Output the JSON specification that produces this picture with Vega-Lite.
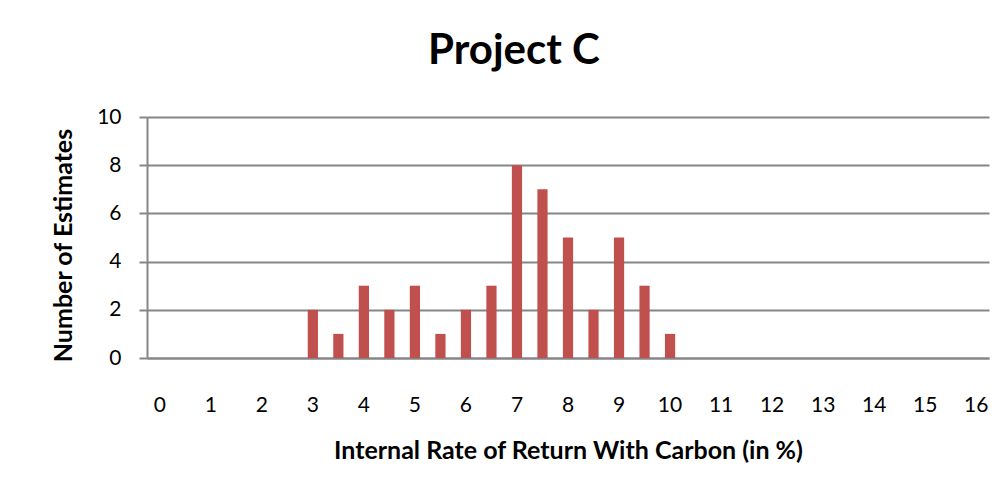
{
  "$schema": "https://vega.github.io/schema/vega-lite/v6.json",
  "autosize": "none",
  "width": 842,
  "height": 241,
  "padding": {"left": 147, "top": 117, "right": 19, "bottom": 142},
  "background": "white",
  "title": {
    "text": "Project C",
    "font": "Lato",
    "fontSize": 42,
    "fontWeight": "bold",
    "color": "#000000",
    "anchor": "middle",
    "baseline": "alphabetic",
    "offset": 0,
    "dx": -54
  },
  "data": {
    "values": [
      {"irr": 0, "count": 0}, {"irr": 0.5, "count": 0},
      {"irr": 1, "count": 0}, {"irr": 1.5, "count": 0},
      {"irr": 2, "count": 0}, {"irr": 2.5, "count": 0},
      {"irr": 3, "count": 2}, {"irr": 3.5, "count": 1},
      {"irr": 4, "count": 3}, {"irr": 4.5, "count": 2},
      {"irr": 5, "count": 3}, {"irr": 5.5, "count": 1},
      {"irr": 6, "count": 2}, {"irr": 6.5, "count": 3},
      {"irr": 7, "count": 8}, {"irr": 7.5, "count": 7},
      {"irr": 8, "count": 5}, {"irr": 8.5, "count": 2},
      {"irr": 9, "count": 5}, {"irr": 9.5, "count": 3},
      {"irr": 10, "count": 1}, {"irr": 10.5, "count": 0},
      {"irr": 11, "count": 0}, {"irr": 11.5, "count": 0},
      {"irr": 12, "count": 0}, {"irr": 12.5, "count": 0},
      {"irr": 13, "count": 0}, {"irr": 13.5, "count": 0},
      {"irr": 14, "count": 0}, {"irr": 14.5, "count": 0},
      {"irr": 15, "count": 0}, {"irr": 15.5, "count": 0},
      {"irr": 16, "count": 0}
    ]
  },
  "mark": {"type": "bar", "color": "#C0504D"},
  "encoding": {
    "x": {
      "field": "irr",
      "type": "ordinal",
      "scale": {"paddingInner": 0.6, "paddingOuter": 0.3},
      "axis": {
        "title": "Internal Rate of Return With Carbon (in %)",
        "titleFont": "Lato",
        "titleFontSize": 25,
        "titleFontWeight": "bold",
        "titleColor": "#000000",
        "titlePadding": 23,
        "labelExpr": "datum.value % 1 == 0 ? datum.label : ''",
        "labelAngle": 0,
        "labelFont": "Lato",
        "labelFontSize": 21,
        "labelColor": "#000000",
        "labelPadding": 36,
        "ticks": false,
        "domainColor": "#868686",
        "domainWidth": 2,
        "grid": false
      }
    },
    "y": {
      "field": "count",
      "type": "quantitative",
      "scale": {"domain": [0, 10], "nice": false},
      "axis": {
        "title": "Number of Estimates",
        "titleFont": "Lato",
        "titleFontSize": 25,
        "titleFontWeight": "bold",
        "titleColor": "#000000",
        "titlePadding": 20,
        "titleY": 128,
        "values": [0, 2, 4, 6, 8, 10],
        "labelFont": "Lato",
        "labelFontSize": 21,
        "labelColor": "#000000",
        "labelPadding": 18,
        "tickSize": 8,
        "tickColor": "#868686",
        "tickWidth": 2,
        "domainColor": "#868686",
        "domainWidth": 2,
        "gridColor": "#868686",
        "gridWidth": 2
      }
    }
  },
  "config": {"view": {"stroke": null}}
}
